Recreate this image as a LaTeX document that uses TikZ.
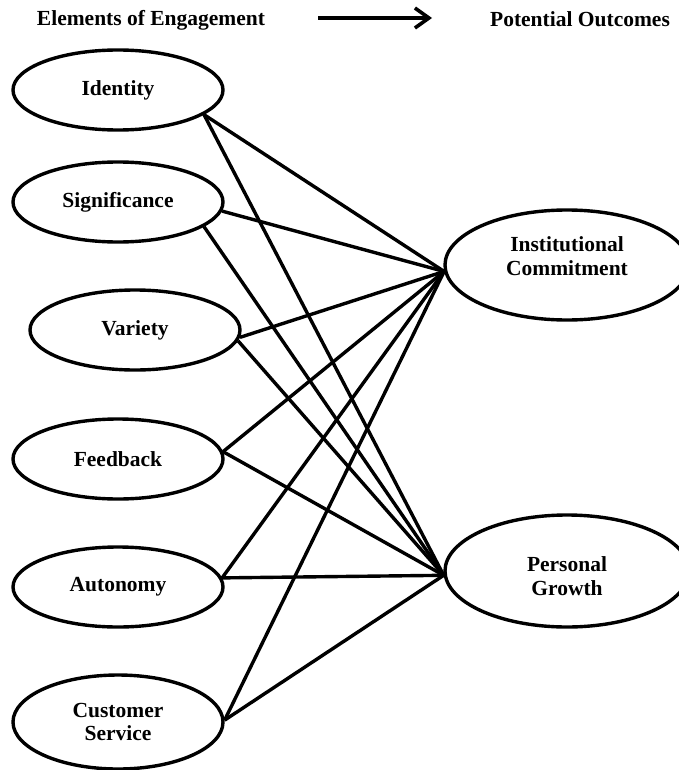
\documentclass[tikz,border=0pt]{standalone}
\usepackage{fontspec}
\setmainfont{Liberation Serif}
\usetikzlibrary{shapes.geometric,arrows.meta}
\begin{document}
\begin{tikzpicture}[x=1pt,y=-1pt,
  lbl/.style={font=\bfseries\fontsize{21.5}{23.5}\selectfont, align=center, inner sep=0pt},
  elem/.style={ellipse, draw, line width=3.4pt, minimum width=210pt, minimum height=80pt, inner sep=0pt, lbl},
  outc/.style={ellipse, draw, line width=3.4pt, minimum width=244pt, minimum height=110pt, inner sep=0pt},
  link/.style={line width=3.4pt},
  flow/.style={line width=3.8pt, -{Straight Barb[length=14pt,width=20pt,line width=3.6pt]}}]
\useasboundingbox (0,0) rectangle (678,770);

% headings
\node[lbl] (hleft) at (151,20) {Elements of Engagement};
\node[lbl] (hright) at (580,19) {Potential Outcomes};
\coordinate (arrS) at (318,18);
\coordinate (arrE) at (432,18);
\draw[flow] (arrS) -- (arrE);

% elements of engagement
\node[elem] (ident) at (118,90) {Identity};
\node[elem] (signif) at (118,202) {Significance};
\node[elem] (variety) at (135,330) {Variety};
\node[elem] (feedb) at (118,459) {Feedback};
\node[elem] (auton) at (118,587) {Autonomy};
\node[elem, minimum height=94pt] (custs) at (118,722) {Customer\\Service};

% potential outcomes
\node[outc] (ic) at (567,265) {};
\node[lbl] (ictext) at (567,256) {Institutional\\Commitment};
\node[outc, minimum height=112pt] (pg) at (567,571) {};
\node[lbl] (pgtext) at (567,576) {Personal\\Growth};

% links
\draw[link] (ident.-16) -- (ic.183);
\draw[link] (ident.-16) -- (pg.182);
\draw[link] (signif.-5) -- (ic.183);
\draw[link] (signif.-16) -- (pg.182);
\draw[link] (variety.-4) -- (ic.183);
\draw[link] (variety.-6) -- (pg.182);
\draw[link] (feedb.4) -- (ic.183);
\draw[link] (feedb.4) -- (pg.182);
\draw[link] (auton.5) -- (ic.183);
\draw[link] (auton.5) -- (pg.182);
\draw[link] (custs.1) -- (ic.183);
\draw[link] (custs.1) -- (pg.182);
\end{tikzpicture}
\end{document}
